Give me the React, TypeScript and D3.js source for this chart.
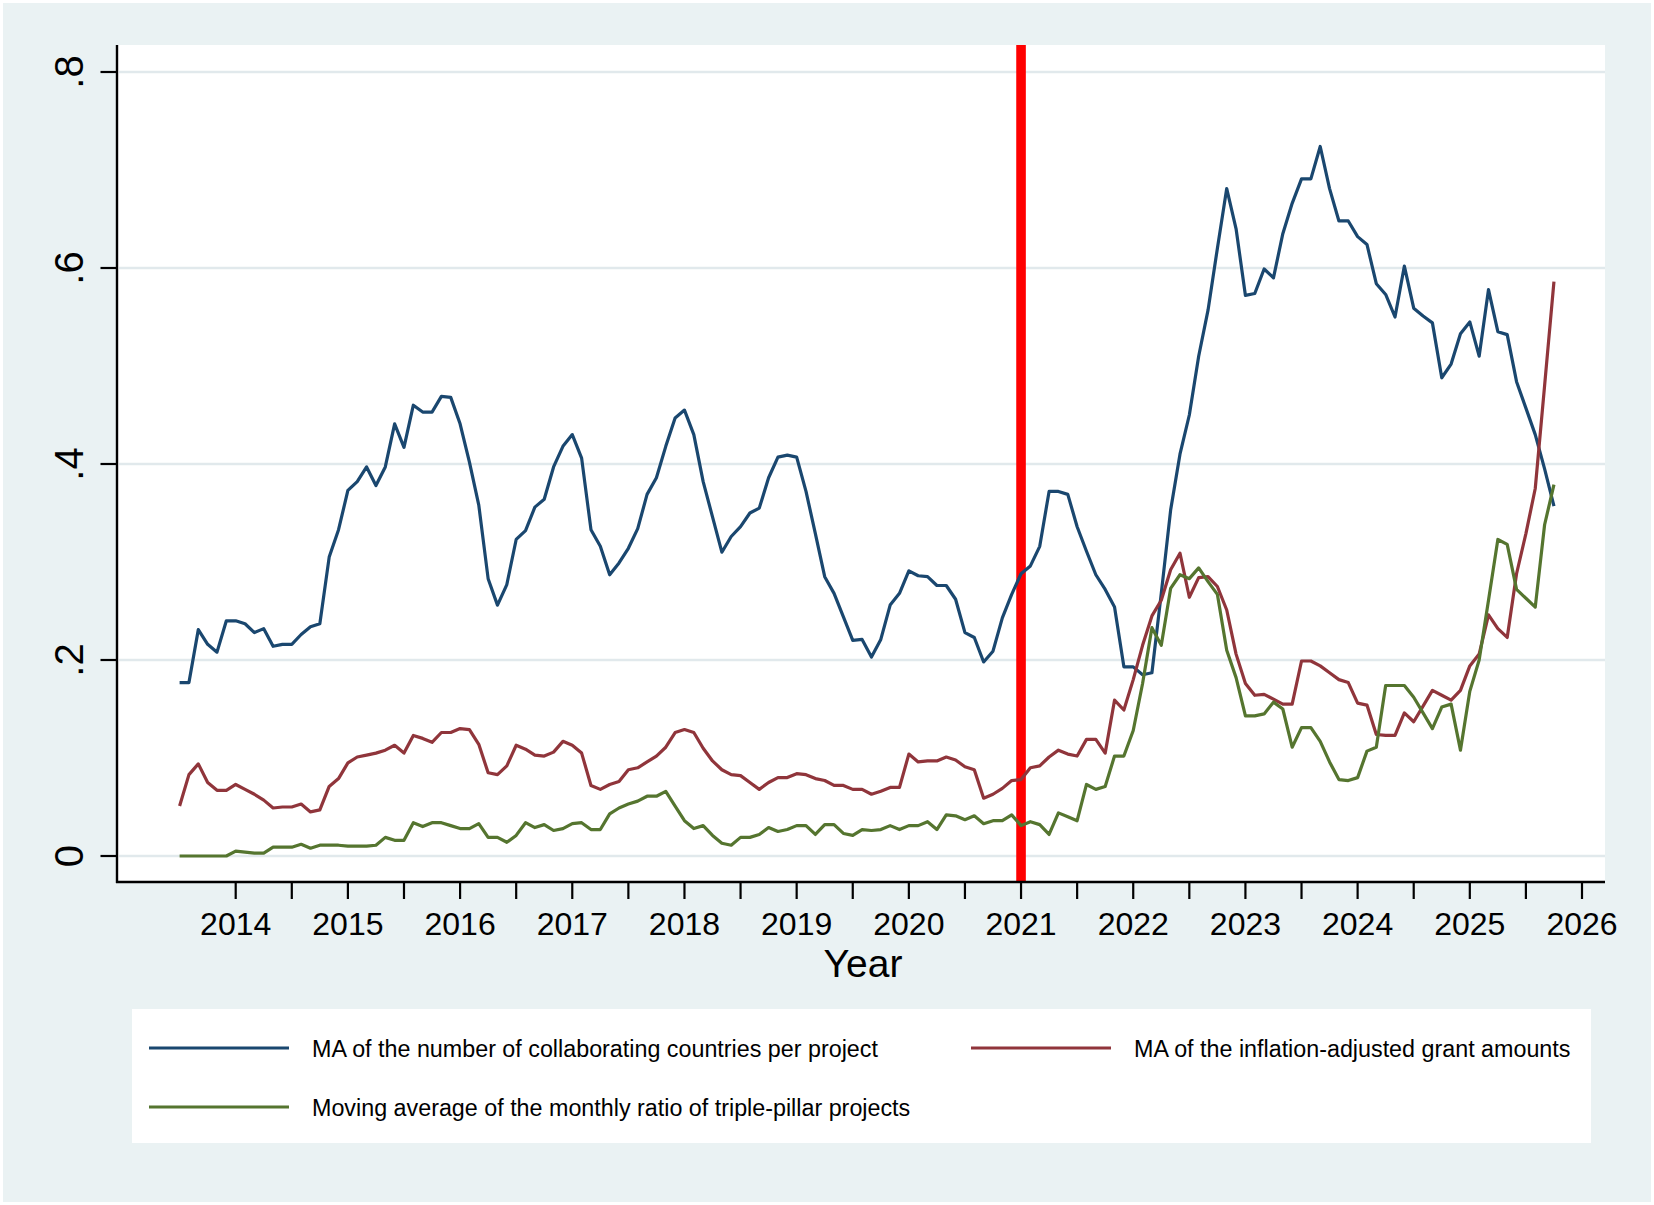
import * as d3 from "d3";
import { useEffect } from "react";

// monthly moving averages, first value = July 2013
const startYear = 2013.5;

const countries = [
  0.177, 0.177, 0.231, 0.216, 0.208, 0.240, 0.240, 0.237, 0.228, 0.232,
  0.214, 0.216, 0.216, 0.226, 0.234, 0.237, 0.305, 0.333, 0.373, 0.382,
  0.397, 0.378, 0.397, 0.441, 0.417, 0.460, 0.453, 0.453, 0.469, 0.468,
  0.441, 0.402, 0.358, 0.283, 0.256, 0.277, 0.323, 0.332, 0.356, 0.364,
  0.397, 0.418, 0.430, 0.406, 0.333, 0.316, 0.287, 0.299, 0.314, 0.334,
  0.369, 0.386, 0.418, 0.447, 0.455, 0.430, 0.382, 0.346, 0.310, 0.326,
  0.336, 0.350, 0.355, 0.386, 0.407, 0.409, 0.407, 0.372, 0.329, 0.285,
  0.268, 0.244, 0.220, 0.221, 0.203, 0.221, 0.256, 0.268, 0.291, 0.286,
  0.285, 0.276, 0.276, 0.262, 0.228, 0.223, 0.198, 0.209, 0.243, 0.267,
  0.288, 0.296, 0.316, 0.372, 0.372, 0.369, 0.336, 0.311, 0.287, 0.272,
  0.254, 0.193, 0.193, 0.185, 0.187, 0.268, 0.353, 0.410, 0.450, 0.510,
  0.557, 0.620, 0.681, 0.640, 0.572, 0.574, 0.599, 0.590, 0.635, 0.666,
  0.691, 0.691, 0.724, 0.681, 0.648, 0.648, 0.632, 0.624, 0.584, 0.573,
  0.550, 0.602, 0.559, 0.551, 0.544, 0.488, 0.502, 0.533, 0.545, 0.510,
  0.578, 0.535, 0.532, 0.484, 0.457, 0.430, 0.395, 0.357,
];

const grants = [
  0.051, 0.083, 0.094, 0.075, 0.067, 0.067, 0.073, 0.068, 0.063, 0.057,
  0.049, 0.050, 0.050, 0.053, 0.045, 0.047, 0.071, 0.079, 0.095, 0.101,
  0.103, 0.105, 0.108, 0.113, 0.105, 0.123, 0.120, 0.116, 0.126, 0.126,
  0.130, 0.129, 0.114, 0.085, 0.083, 0.092, 0.113, 0.109, 0.103, 0.102,
  0.106, 0.117, 0.113, 0.105, 0.072, 0.068, 0.073, 0.076, 0.088, 0.090,
  0.096, 0.102, 0.111, 0.126, 0.129, 0.126, 0.110, 0.097, 0.088, 0.083,
  0.082, 0.075, 0.068, 0.075, 0.080, 0.080, 0.084, 0.083, 0.079, 0.077,
  0.072, 0.072, 0.068, 0.068, 0.063, 0.066, 0.070, 0.070, 0.104, 0.096,
  0.097, 0.097, 0.101, 0.098, 0.091, 0.088, 0.059, 0.063, 0.069, 0.077,
  0.078, 0.090, 0.092, 0.101, 0.108, 0.104, 0.102, 0.119, 0.119, 0.105,
  0.159, 0.149, 0.180, 0.215, 0.245, 0.261, 0.292, 0.309, 0.264, 0.284,
  0.285, 0.275, 0.251, 0.206, 0.176, 0.164, 0.165, 0.160, 0.155, 0.155,
  0.199, 0.199, 0.194, 0.187, 0.180, 0.177, 0.156, 0.154, 0.124, 0.123,
  0.123, 0.146, 0.137, 0.153, 0.169, 0.164, 0.159, 0.169, 0.194, 0.206,
  0.246, 0.232, 0.223, 0.288, 0.329, 0.375, 0.480, 0.586,
];

const triplePillar = [
  0.000, 0.000, 0.000, 0.000, 0.000, 0.000, 0.005, 0.004, 0.003, 0.003,
  0.009, 0.009, 0.009, 0.012, 0.008, 0.011, 0.011, 0.011, 0.010, 0.010,
  0.010, 0.011, 0.019, 0.016, 0.016, 0.034, 0.030, 0.034, 0.034, 0.031,
  0.028, 0.028, 0.033, 0.019, 0.019, 0.014, 0.021, 0.034, 0.029, 0.032,
  0.026, 0.028, 0.033, 0.034, 0.027, 0.027, 0.043, 0.049, 0.053, 0.056,
  0.061, 0.061, 0.066, 0.051, 0.036, 0.028, 0.031, 0.021, 0.013, 0.011,
  0.019, 0.019, 0.022, 0.029, 0.025, 0.027, 0.031, 0.031, 0.022, 0.032,
  0.032, 0.023, 0.021, 0.027, 0.026, 0.027, 0.031, 0.027, 0.031, 0.031,
  0.035, 0.027, 0.042, 0.041, 0.037, 0.041, 0.033, 0.036, 0.036, 0.042,
  0.031, 0.035, 0.032, 0.022, 0.044, 0.040, 0.036, 0.073, 0.068, 0.071,
  0.102, 0.102, 0.128, 0.176, 0.233, 0.215, 0.273, 0.287, 0.283, 0.294,
  0.280, 0.267, 0.210, 0.182, 0.143, 0.143, 0.145, 0.157, 0.150, 0.111,
  0.131, 0.131, 0.117, 0.096, 0.078, 0.077, 0.080, 0.107, 0.111, 0.174,
  0.174, 0.174, 0.162, 0.146, 0.130, 0.152, 0.155, 0.108, 0.168, 0.200,
  0.261, 0.323, 0.318, 0.272, 0.263, 0.254, 0.338, 0.379,
];

const yTicks = [0, 0.2, 0.4, 0.6, 0.8];
const yearLabels = [2014, 2015, 2016, 2017, 2018, 2019, 2020, 2021, 2022, 2023, 2024, 2025, 2026];
const cutoffYear = 2021;

const series = [
  { name: "MA of the number of collaborating countries per project", values: countries, color: "#1a476f" },
  { name: "MA of the inflation-adjusted grant amounts", values: grants, color: "#90353b" },
  { name: "Moving average of the monthly ratio of triple-pillar projects", values: triplePillar, color: "#55752f" },
];

const W = 1654;
const H = 1205;
const plot = { left: 117, right: 1605, top: 45, bottom: 882 };
const bg = "#eaf2f3";
const font = "'Liberation Sans', Arial, Helvetica, sans-serif";

export default function App() {
  useEffect(() => {
    document.body.style.margin = "0";
  }, []);

  const x = d3.scaleLinear().domain([2014, 2026]).range([235.7, 1582]);
  const y = d3.scaleLinear().domain([0, 0.8]).range([856, 72]);

  const line = d3
    .line<number>()
    .x((_, i) => x(startYear + i / 12))
    .y((d) => y(d));

  const halfYears = d3.range(2014, 2026.01, 0.5);
  const fmt = (d: number) => (d === 0 ? "0" : d3.format(".1f")(d).replace(/^0/, ""));

  return (
    <svg width={W} height={H} style={{ display: "block" }} fontFamily={font}>
      <rect x={0} y={0} width={W} height={H} fill="#ffffff" />
      <rect x={3} y={3} width={W - 6} height={H - 6} fill={bg} />
      <rect
        x={plot.left}
        y={plot.top}
        width={plot.right - plot.left}
        height={plot.bottom - plot.top}
        fill="#ffffff"
      />

      {/* gridlines */}
      {yTicks.map((t) => (
        <line
          key={"g" + t}
          x1={plot.left + 2}
          x2={plot.right}
          y1={y(t)}
          y2={y(t)}
          stroke="#e1e9ec"
          strokeWidth={2.6}
        />
      ))}

      {/* cutoff line */}
      <line
        x1={x(cutoffYear)}
        x2={x(cutoffYear)}
        y1={plot.top}
        y2={plot.bottom}
        stroke="#ff0000"
        strokeWidth={9.6}
      />

      {series.map((s) => (
        <path
          key={s.name}
          d={line(s.values) || ""}
          fill="none"
          stroke={s.color}
          strokeWidth={3.2}
          strokeLinejoin="round"
        />
      ))}

      {/* y axis */}
      <line x1={plot.left} x2={plot.left} y1={plot.top} y2={plot.bottom + 1} stroke="#000" strokeWidth={2.4} />
      {yTicks.map((t) => (
        <g key={"y" + t}>
          <line x1={100.5} x2={plot.left} y1={y(t)} y2={y(t)} stroke="#000" strokeWidth={2.2} />
          <text
            transform={`translate(83,${y(t)}) rotate(-90)`}
            textAnchor="middle"
            fontSize={40}
            fill="#000"
          >
            {fmt(t)}
          </text>
        </g>
      ))}

      {/* x axis */}
      <line x1={plot.left - 1} x2={plot.right} y1={plot.bottom} y2={plot.bottom} stroke="#000" strokeWidth={2.4} />
      {halfYears.map((t) => (
        <line key={"xt" + t} x1={x(t)} x2={x(t)} y1={plot.bottom} y2={899} stroke="#000" strokeWidth={2.2} />
      ))}
      {yearLabels.map((yr) => (
        <text key={"xl" + yr} x={x(yr)} y={935} textAnchor="middle" fontSize={32} fill="#000">
          {yr}
        </text>
      ))}
      <text x={(plot.left + plot.right) / 2 + 2} y={977} textAnchor="middle" fontSize={39} fill="#000">
        Year
      </text>

      {/* legend */}
      <rect x={132} y={1009} width={1459} height={134} fill="#ffffff" />
      {series.map((s, i) => {
        const col = i === 1 ? 1 : 0;
        const row = i === 2 ? 1 : 0;
        const lx = col === 0 ? 149 : 971;
        const ly = 1048 + row * 59;
        return (
          <g key={"lg" + i}>
            <line x1={lx} x2={lx + 140} y1={ly} y2={ly} stroke={s.color} strokeWidth={3.2} />
            <text x={lx + 163} y={ly + 9} fontSize={23.3} fill="#000">
              {s.name}
            </text>
          </g>
        );
      })}
    </svg>
  );
}
